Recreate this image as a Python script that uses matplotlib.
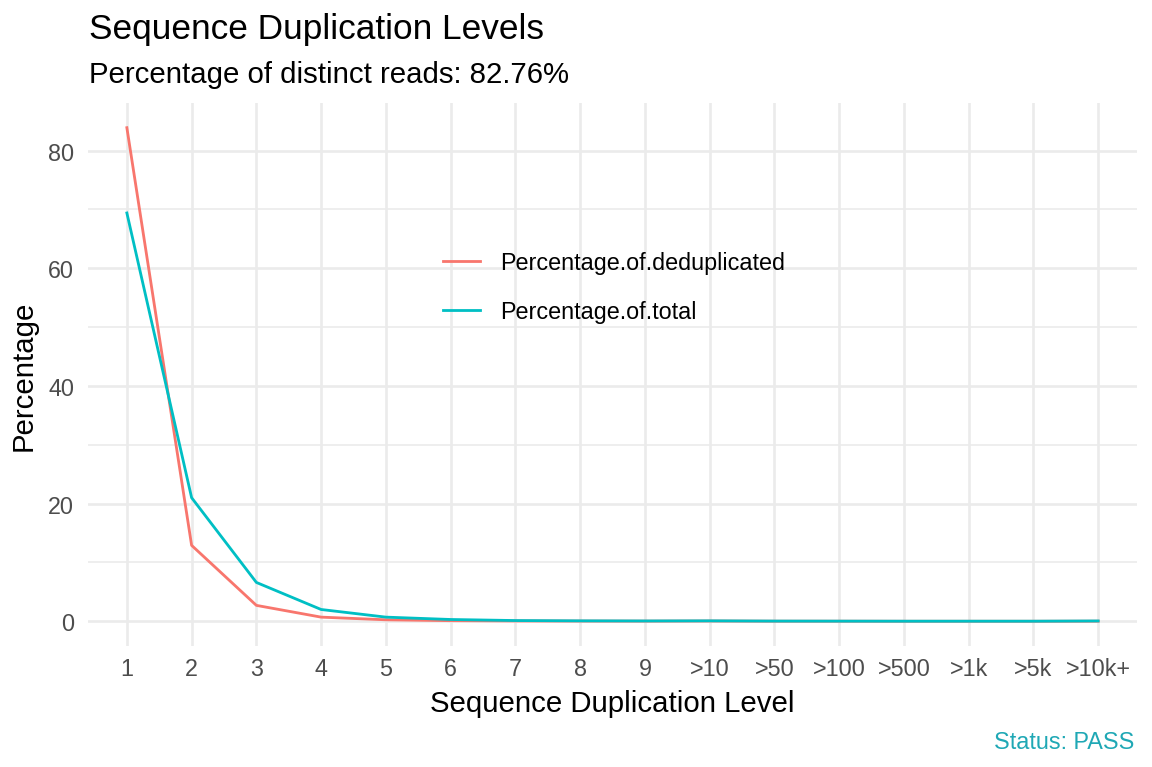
import matplotlib
matplotlib.use("Agg")
import matplotlib.pyplot as plt

levels = ["1", "2", "3", "4", "5", "6", "7", "8", "9", ">10", ">50", ">100",
          ">500", ">1k", ">5k", ">10k+"]
dedup = [83.9, 12.9, 2.7, 0.7, 0.25, 0.1, 0.05, 0.03, 0.02, 0.04, 0.01, 0.01,
         0.0, 0.0, 0.0, 0.01]
total = [69.4, 21.0, 6.6, 2.0, 0.7, 0.3, 0.12, 0.07, 0.05, 0.07, 0.03, 0.02,
         0.01, 0.01, 0.01, 0.05]

plt.rcParams["font.family"] = ["Liberation Sans", "DejaVu Sans"]

fig = plt.figure(figsize=(8, 5.3333), dpi=144)
ax = fig.add_axes([0.0764, 0.1576, 0.9106, 0.707])

x = list(range(1, len(levels) + 1))
ax.plot(x, dedup, color="#F8766D", lw=1.4, label="Percentage.of.deduplicated")
ax.plot(x, total, color="#00BFC4", lw=1.4, label="Percentage.of.total")

ax.set_xlim(0.4, 16.6)
ax.set_ylim(-4.2, 88.1)
ax.set_xticks(x)
ax.set_xticklabels(levels)
ax.set_yticks([0, 20, 40, 60, 80])
ax.set_yticks([10, 30, 50, 70], minor=True)
ax.grid(which="major", color="#EBEBEB", lw=1.3)
ax.grid(which="minor", axis="y", color="#EBEBEB", lw=0.8)
ax.set_axisbelow(True)
for s in ax.spines.values():
    s.set_visible(False)
ax.tick_params(which="both", length=0, labelsize=11.7, labelcolor="#4D4D4D")
ax.tick_params(axis="x", pad=5.5)
ax.tick_params(axis="y", pad=7)

ax.set_xlabel("Sequence Duplication Level", fontsize=14.7, va="baseline")
ax.xaxis.set_label_coords(0.5, -0.1198)
ax.set_ylabel("Percentage", fontsize=14.7)
ax.yaxis.set_label_coords(-0.048, 0.5)

ax.legend(loc="center", bbox_to_anchor=(614 / 1152, 1 - 288 / 768),
          bbox_transform=fig.transFigure, frameon=False, fontsize=11.7,
          handlelength=1.58, handletextpad=0.85, labelspacing=1.1)

fig.text(0.0773, 0.949, "Sequence Duplication Levels", fontsize=17.6, va="baseline")
fig.text(0.0773, 0.892, "Percentage of distinct reads: 82.76%", fontsize=14.7,
         va="baseline")
fig.text(0.985, 0.0247, "Status: PASS", fontsize=11.7, color="#1FA8B5",
         ha="right", va="baseline")

fig.savefig("out.png", dpi=144)
